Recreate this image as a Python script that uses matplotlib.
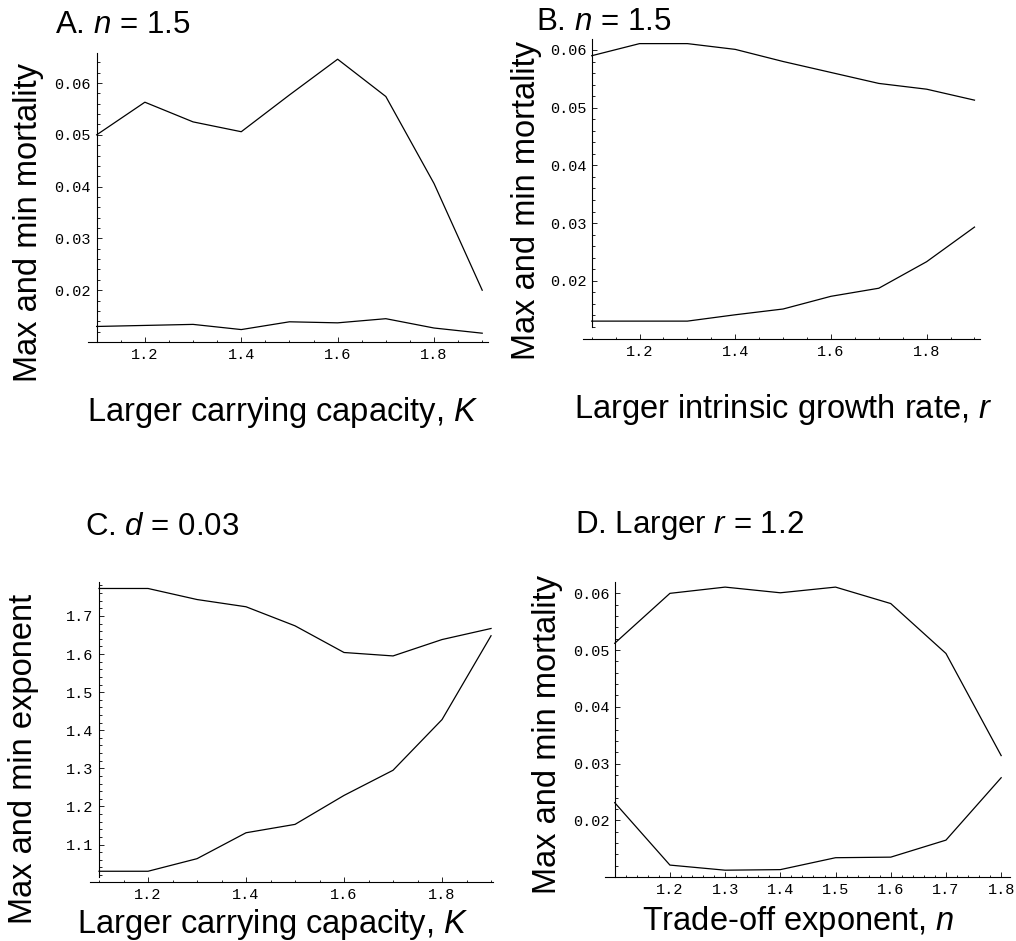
import matplotlib
matplotlib.use("Agg")
import matplotlib.pyplot as plt
import numpy as np
from matplotlib.ticker import FixedLocator, MultipleLocator

plt.rcParams['font.family'] = 'Liberation Sans'
plt.rcParams['mathtext.fontset'] = 'custom'
plt.rcParams['mathtext.rm'] = 'Liberation Sans'
plt.rcParams['mathtext.it'] = 'Liberation Sans:italic'

# x values
K = [1.1, 1.2, 1.3, 1.4, 1.5, 1.6, 1.7, 1.8, 1.9]
r = [1.1, 1.2, 1.3, 1.4, 1.5, 1.6, 1.7, 1.8, 1.9]
n = [1.1, 1.2, 1.3, 1.4, 1.5, 1.6, 1.7, 1.8]

# A. n = 1.5
a_max = [0.0500, 0.0563, 0.0525, 0.0506, 0.0577, 0.0646, 0.0574, 0.0406, 0.0200]
a_min = [0.0130, 0.0132, 0.0134, 0.0124, 0.0139, 0.0137, 0.0145, 0.0127, 0.0117]
# B. n = 1.5
b_max = [0.0590, 0.0611, 0.0611, 0.0601, 0.0580, 0.0561, 0.0542, 0.0532, 0.0513]
b_min = [0.0130, 0.0130, 0.0130, 0.0141, 0.0151, 0.0173, 0.0187, 0.0233, 0.0293]
# C. d = 0.03
c_max = [1.772, 1.772, 1.743, 1.724, 1.674, 1.604, 1.595, 1.638, 1.667]
c_min = [1.030, 1.030, 1.063, 1.131, 1.153, 1.229, 1.295, 1.428, 1.648]
# D. larger r = 1.2
d_max = [0.0512, 0.0600, 0.0611, 0.0601, 0.0611, 0.0582, 0.0494, 0.0314]
d_min = [0.0231, 0.0121, 0.0112, 0.0113, 0.0134, 0.0135, 0.0165, 0.0275]

mort_ticks = [0.02, 0.03, 0.04, 0.05, 0.06]
mort_labels = ['0.02', '0.03', '0.04', '0.05', '0.06']
expo_ticks = [1.1, 1.2, 1.3, 1.4, 1.5, 1.6, 1.7]
expo_labels = ['1.1', '1.2', '1.3', '1.4', '1.5', '1.6', '1.7']
k_ticks = [1.2, 1.4, 1.6, 1.8]
k_labels = ['1.2', '1.4', '1.6', '1.8']
n_ticks = [1.2, 1.3, 1.4, 1.5, 1.6, 1.7, 1.8]
n_labels = ['1.2', '1.3', '1.4', '1.5', '1.6', '1.7', '1.8']

W, H = 1016, 941
fig = plt.figure(figsize=(W / 100, H / 100), dpi=100)


def px_axes(l, r_, t, b):
    return fig.add_axes([l / W, 1 - b / H, (r_ - l) / W, (b - t) / H])


def style(ax, xlim, ylim, xt, xl, yt, yl, xminor, yminor, ybottom=None):
    ax.set_xlim(*xlim)
    ax.set_ylim(*ylim)
    for s in ['top', 'right']:
        ax.spines[s].set_visible(False)
    ax.spines['left'].set_position(('data', 1.1))
    ax.spines['left'].set_linewidth(0.8)
    ax.spines['bottom'].set_linewidth(0.8)
    lo = ylim[0] if ybottom is None else ybottom
    ax.spines['left'].set_bounds(lo, ylim[1])
    ax.xaxis.set_major_locator(FixedLocator(xt))
    ax.set_xticklabels(xl)
    ax.yaxis.set_major_locator(FixedLocator(yt))
    ax.set_yticklabels(yl)
    ax.xaxis.set_minor_locator(MultipleLocator(xminor))
    ystart = np.ceil(lo / yminor - 1e-6) * yminor
    ax.yaxis.set_minor_locator(FixedLocator(np.arange(ystart, ylim[1], yminor)))
    ax.tick_params(which='both', direction='in', width=0.6, colors='black')
    ax.tick_params(which='major', length=3.5, pad=4, labelsize=11)
    ax.tick_params(which='minor', length=1.8)
    for lab in ax.get_xticklabels() + ax.get_yticklabels():
        lab.set_family('Liberation Mono')


def txt(x, y, s, size, **kw):
    fig.text(x / W, 1 - y / H, s, fontsize=size, **kw)


def ylab(x, y, s):
    fig.text(x / W, 1 - y / H, s, fontsize=23.5, rotation=90,
             rotation_mode='anchor', ha='center', va='baseline')


# A
ax = px_axes(88, 488, 53, 342)
ax.plot(K, a_max, color='black', lw=0.9)
ax.plot(K, a_min, color='black', lw=0.9)
style(ax, (1.082, 1.912), (0.0100, 0.0658), k_ticks, k_labels,
      mort_ticks, mort_labels, 0.05, 0.002)

# B
ax = px_axes(583, 980, 39, 339)
ax.plot(r, b_max, color='black', lw=0.9)
ax.plot(r, b_min, color='black', lw=0.9)
style(ax, (1.0818, 1.9115), (0.0099, 0.0619), k_ticks, k_labels,
      mort_ticks, mort_labels, 0.05, 0.002, ybottom=0.0119)

# C
ax = px_axes(90, 493, 582, 882)
ax.plot(K, c_max, color='black', lw=0.9)
ax.plot(K, c_min, color='black', lw=0.9)
style(ax, (1.0816, 1.904), (1.0018, 1.789), k_ticks, k_labels,
      expo_ticks, expo_labels, 0.05, 0.02, ybottom=1.015)

# D
ax = px_axes(605, 1010, 582, 877)
ax.plot(n, d_max, color='black', lw=0.9)
ax.plot(n, d_min, color='black', lw=0.9)
style(ax, (1.0824, 1.816), (0.0100, 0.0620), n_ticks, n_labels,
      mort_ticks, mort_labels, 0.02, 0.002)

# titles
txt(55, 33, 'A. $n$ = 1.5', 22.5, ha='left', va='baseline')
txt(536, 30, 'B. $n$ = 1.5', 22.5, ha='left', va='baseline')
txt(85, 535, 'C. $d$ = 0.03', 22.5, ha='left', va='baseline')
txt(575, 533, 'D. Larger $r$ = 1.2', 22.5, ha='left', va='baseline')

# x labels
txt(283, 421, 'Larger carrying capacity, $K$', 23.5, ha='center', va='baseline')
txt(783, 418, 'Larger intrinsic growth rate, $r$', 23.5, ha='center', va='baseline')
txt(273, 933, 'Larger carrying capacity, $K$', 23.5, ha='center', va='baseline')
txt(798, 930, 'Trade-off exponent, $n$', 23.5, ha='center', va='baseline')

# y labels
ylab(37, 222, 'Max and min mortality')
ylab(535, 200, 'Max and min mortality')
ylab(32, 759, 'Max and min exponent')
ylab(556, 735, 'Max and min mortality')

fig.savefig('out.png', dpi=100)
